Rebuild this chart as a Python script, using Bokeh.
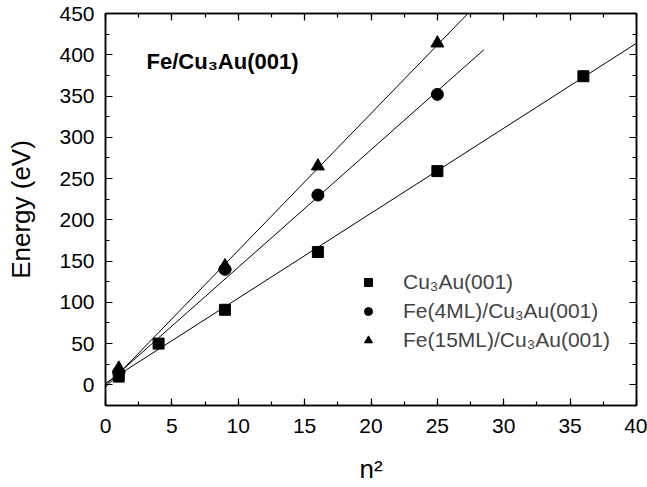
from bokeh.plotting import figure
from bokeh.models import (LinearAxis, SingleIntervalTicker, Range1d, Legend, LegendItem, Label,
                          CustomJSTickFormatter)
from bokeh.embed import file_html
from bokeh.resources import INLINE

# ---- data ----
cu_n2 = [1, 4, 9, 16, 25, 36]
cu_e = [10, 50, 91, 161, 259, 374]

fe4_n2 = [1, 9, 16, 25]
fe4_e = [15, 140, 230, 352]

fe15_n2 = [1, 9, 16, 25]
fe15_e = [20, 144, 265, 414]

# linear fit lines (end points)
cu_fit_x = [0, 40]
cu_fit_y = [2, 414]
fe4_fit_x = [0, 28.5]
fe4_fit_y = [0, 406]
fe15_fit_x = [0, 27.3]
fe15_fit_y = [-3, 450]

labels = ["Cu₃Au(001)", "Fe(4ML)/Cu₃Au(001)", "Fe(15ML)/Cu₃Au(001)"]
title_text = "Fe/Cu₃Au(001)"

FONT = "Liberation Sans"

p = figure(width=647, height=487, output_backend="svg", toolbar_location=None,
           x_range=Range1d(0, 40), y_range=Range1d(-25, 450),
           min_border_left=105, min_border_right=11, min_border_top=13, min_border_bottom=82,
           x_axis_label="n²", y_axis_label="Energy (eV)")
p.xgrid.visible = False
p.ygrid.visible = False
p.background_fill_color = "white"
p.border_fill_color = "white"
p.outline_line_color = "black"
p.outline_line_width = 1.5

p.xaxis.ticker = SingleIntervalTicker(interval=5, num_minor_ticks=2)
p.yaxis.ticker = SingleIntervalTicker(interval=50, num_minor_ticks=2)

for ax in (p.xaxis[0], p.yaxis[0]):
    ax.major_tick_in = 7
    ax.major_tick_out = 0
    ax.minor_tick_in = 4
    ax.minor_tick_out = 0
    ax.axis_line_width = 1.5
    ax.major_tick_line_width = 1.2
    ax.minor_tick_line_width = 1.2
    ax.major_label_text_font = FONT
    ax.major_label_text_font_size = "21px"
    ax.major_label_text_color = "black"
    ax.axis_label_text_font = FONT
    ax.axis_label_text_font_size = "26px"
    ax.axis_label_text_font_style = "normal"
    ax.axis_label_text_color = "black"

p.xaxis.major_label_standoff = 13
p.xaxis.axis_label_standoff = 18
p.yaxis.major_label_standoff = 11
p.yaxis.axis_label_standoff = 20

# mirrored axes (ticks only, no labels)
blank = CustomJSTickFormatter(code="return ''")
top = LinearAxis(ticker=SingleIntervalTicker(interval=5, num_minor_ticks=2), formatter=blank)
right = LinearAxis(ticker=SingleIntervalTicker(interval=50, num_minor_ticks=2), formatter=blank)
for ax in (top, right):
    ax.major_tick_in = 7
    ax.major_tick_out = 0
    ax.minor_tick_in = 4
    ax.minor_tick_out = 0
    ax.axis_line_width = 1.5
    ax.major_tick_line_width = 1.2
    ax.minor_tick_line_width = 1.2
    ax.major_label_standoff = 0
p.add_layout(top, "above")
p.add_layout(right, "right")

# fit lines
p.line(cu_fit_x, cu_fit_y, line_color="black", line_width=1)
p.line(fe4_fit_x, fe4_fit_y, line_color="black", line_width=1)
p.line(fe15_fit_x, fe15_fit_y, line_color="black", line_width=1)

# data points
r1 = p.scatter(cu_n2, cu_e, marker="square", size=11, color="black")
r2 = p.scatter(fe4_n2, fe4_e, marker="circle", size=12, color="black")
r3 = p.scatter(fe15_n2, fe15_e, marker="triangle", size=13, color="black")

legend = Legend(items=[LegendItem(label=labels[0], renderers=[r1]),
                       LegendItem(label=labels[1], renderers=[r2]),
                       LegendItem(label=labels[2], renderers=[r3])],
                location=(253, 52), padding=0, margin=0, spacing=3,
                glyph_width=20, glyph_height=26, label_height=26, label_standoff=25,
                label_text_font=FONT, label_text_font_size="21px",
                background_fill_alpha=0, border_line_alpha=0)
p.add_layout(legend, "center")

p.add_layout(Label(x=3.09, y=392, text=title_text, text_font=FONT, text_font_size="22px",
                   text_font_style="bold", text_baseline="alphabetic", text_color="black"))

open("out.html", "w").write(file_html(p, INLINE))
